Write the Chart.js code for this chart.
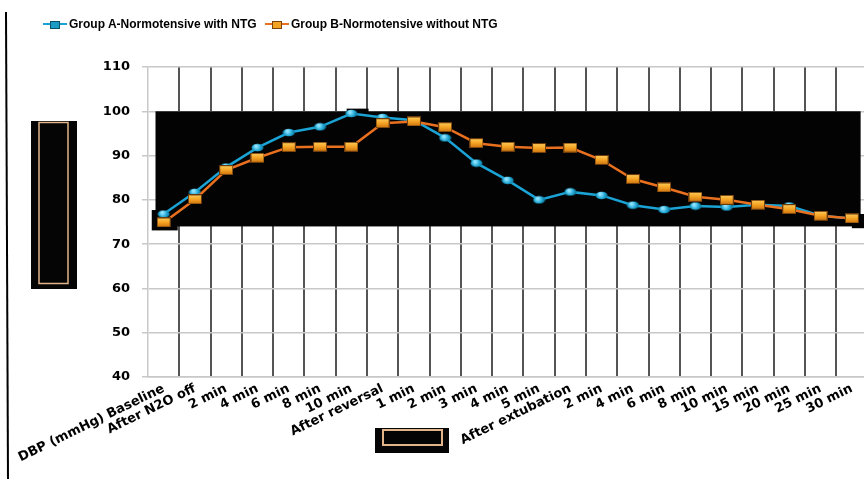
<!DOCTYPE html>
<html>
<head>
<meta charset="utf-8">
<script src="https://cdn.jsdelivr.net/npm/chart.js@4"></script>
<style>
  body { margin: 0; background: #fff; }
  #wrap { position: relative; width: 864px; height: 479px; overflow: hidden; }
  #legend { position: absolute; top: 16px; left: 43px; font: bold 12px "Liberation Sans", Arial, sans-serif; color: #000; white-space: nowrap; }
  .item { position: absolute; top: 0; display: flex; align-items: center; height: 16px; }
  .sym { position: relative; width: 24px; height: 16px; margin-right: 2px; }
  .sym .ln { position: absolute; left: 0; right: 0; top: 7px; height: 2px; }
  .sym .mk { position: absolute; left: 7px; top: 5px; width: 8px; height: 6px; border: 1px solid #333; }
</style>
</head>
<body>
<div id="wrap">
  <canvas id="chart" width="874" height="479"></canvas>
  <div id="legend">
    <div class="item" style="left:0">
      <div class="sym"><div class="ln" style="background:#1aa3d4"></div><div class="mk" style="background:#1b9cc4;border-color:#0b4f66"></div></div>
      <span>Group A-Normotensive with NTG</span>
    </div>
    <div class="item" style="left:222px">
      <div class="sym"><div class="ln" style="background:#e8701e"></div><div class="mk" style="background:#f5a323;border-color:#7a420e"></div></div>
      <span>Group B-Normotensive without NTG</span>
    </div>
  </div>
</div>
<script>
// categories (time points)
const timeLabels = [
  "DBP (mmHg) Baseline", "After N2O off", "2 min", "4 min", "6 min", "8 min", "10 min",
  "After reversal", "1 min", "2 min", "3 min", "4 min", "5 min",
  "After extubation", "2 min", "4 min", "6 min", "8 min", "10 min", "15 min", "20 min", "25 min", "30 min"
];

// series values
const groupA = [76.8, 81.7, 87.4, 91.8, 95.2, 96.5, 99.5, 98.6, 98.0, 94.0, 88.3, 84.4, 80.0,
                81.8, 81.0, 78.8, 77.8, 78.6, 78.4, 78.9, 78.6, 76.4, 75.8];
const groupB = [74.9, 80.1, 86.7, 89.5, 91.9, 92.0, 92.0, 97.3, 97.7, 96.4, 92.8, 92.0, 91.7,
                91.8, 89.0, 84.7, 82.8, 80.7, 80.0, 78.9, 77.9, 76.4, 75.8];

const yMin = 40, yMax = 110, yStep = 10;

// marker images
function makeBlueDot() {
  const c = document.createElement("canvas");
  c.width = 13; c.height = 9;
  const g = c.getContext("2d");
  const grad = g.createRadialGradient(5, 3, 1, 6.5, 4.5, 7);
  grad.addColorStop(0, "#8fe3ff");
  grad.addColorStop(0.5, "#1ea5d2");
  grad.addColorStop(1, "#0a5a78");
  g.fillStyle = grad;
  g.beginPath();
  g.ellipse(6.5, 4.5, 6, 3.8, 0, 0, Math.PI * 2);
  g.fill();
  return c;
}
function makeOrangeBox() {
  const c = document.createElement("canvas");
  c.width = 14; c.height = 10;
  const g = c.getContext("2d");
  const grad = g.createLinearGradient(0, 0, 0, 10);
  grad.addColorStop(0, "#ffd060");
  grad.addColorStop(0.5, "#f5a323");
  grad.addColorStop(1, "#c8700f");
  g.fillStyle = "#6b3a0c";
  g.fillRect(0, 0, 14, 10);
  g.fillStyle = grad;
  g.fillRect(1, 1, 12, 8);
  return c;
}

// the odd black shapes in the scanned figure
const decor = {
  id: "decor",
  beforeDatasetsDraw(chart) {
    const ctx = chart.ctx;
    const x = chart.scales.x, y = chart.scales.y;
    const xp = v => x.getPixelForValue(0) + v * (x.getPixelForValue(1) - x.getPixelForValue(0));
    ctx.save();
    ctx.fillStyle = "#030303";
    ctx.fillRect(xp(-0.26), y.getPixelForValue(100), xp(22.28) - xp(-0.26), y.getPixelForValue(74) - y.getPixelForValue(100));
    ctx.fillRect(xp(-0.38), y.getPixelForValue(77.7), xp(0.45) - xp(-0.38), y.getPixelForValue(73.1) - y.getPixelForValue(77.7));
    ctx.fillRect(xp(22), y.getPixelForValue(76.8), xp(22.45) - xp(22), y.getPixelForValue(73.6) - y.getPixelForValue(76.8));
    ctx.fillRect(xp(5.85), y.getPixelForValue(100.6), xp(6.55) - xp(5.85), 4);
    ctx.restore();
  },
  afterDraw(chart) {
    const ctx = chart.ctx;
    ctx.save();
    // left rule
    ctx.strokeStyle = "#000";
    ctx.lineWidth = 2;
    ctx.beginPath();
    ctx.moveTo(6, 12);
    ctx.lineTo(8, 479);
    ctx.stroke();
    // left box
    ctx.fillStyle = "#050505";
    ctx.fillRect(31, 121, 46, 168);
    ctx.strokeStyle = "#e2b48a";
    ctx.lineWidth = 1.5;
    ctx.strokeRect(39, 122.5, 29, 161);
    // bottom box
    ctx.fillStyle = "#050505";
    ctx.fillRect(375, 428, 74, 25);
    ctx.lineWidth = 2;
    ctx.strokeRect(383, 430, 59, 15);
    ctx.restore();
  }
};

new Chart(document.getElementById("chart"), {
  type: "line",
  data: {
    labels: timeLabels,
    datasets: [
      {
        label: "Group A-Normotensive with NTG",
        data: groupA,
        borderColor: "#1aa3d4",
        borderWidth: 2.5,
        pointStyle: makeBlueDot(),
        order: 2
      },
      {
        label: "Group B-Normotensive without NTG",
        data: groupB,
        borderColor: "#e8701e",
        borderWidth: 2.5,
        pointStyle: makeOrangeBox(),
        order: 1
      }
    ]
  },
  options: {
    responsive: false,
    animation: false,
    layout: { padding: { top: 67, left: 0, right: 0, bottom: 0 } },
    plugins: { legend: { display: false }, tooltip: { enabled: false } },
    scales: {
      x: {
        offset: true,
        grid: {
          offset: true,
          drawTicks: false,
          lineWidth: 2,
          color: ctx => ctx.index === 0 ? "rgba(0,0,0,0)" : "#555"
        },
        border: { color: "#c8c8c8", width: 1.5 },
        ticks: {
          autoSkip: false,
          minRotation: 26,
          maxRotation: 26,
          padding: 4,
          color: "#000",
          font: { family: "DejaVu Sans", weight: "bold", size: 13 }
        },
        afterFit: s => { s.height = 102; }
      },
      y: {
        min: yMin,
        max: yMax,
        ticks: {
          stepSize: yStep,
          padding: 12,
          color: "#000",
          font: { family: "DejaVu Sans", weight: "bold", size: 13 }
        },
        grid: { color: "#c8c8c8", lineWidth: 1.5, tickLength: 6 },
        border: { color: "#c8c8c8", width: 1.5 },
        afterFit: s => { s.width = 148; }
      }
    }
  },
  plugins: [decor]
});
</script>
</body>
</html>
